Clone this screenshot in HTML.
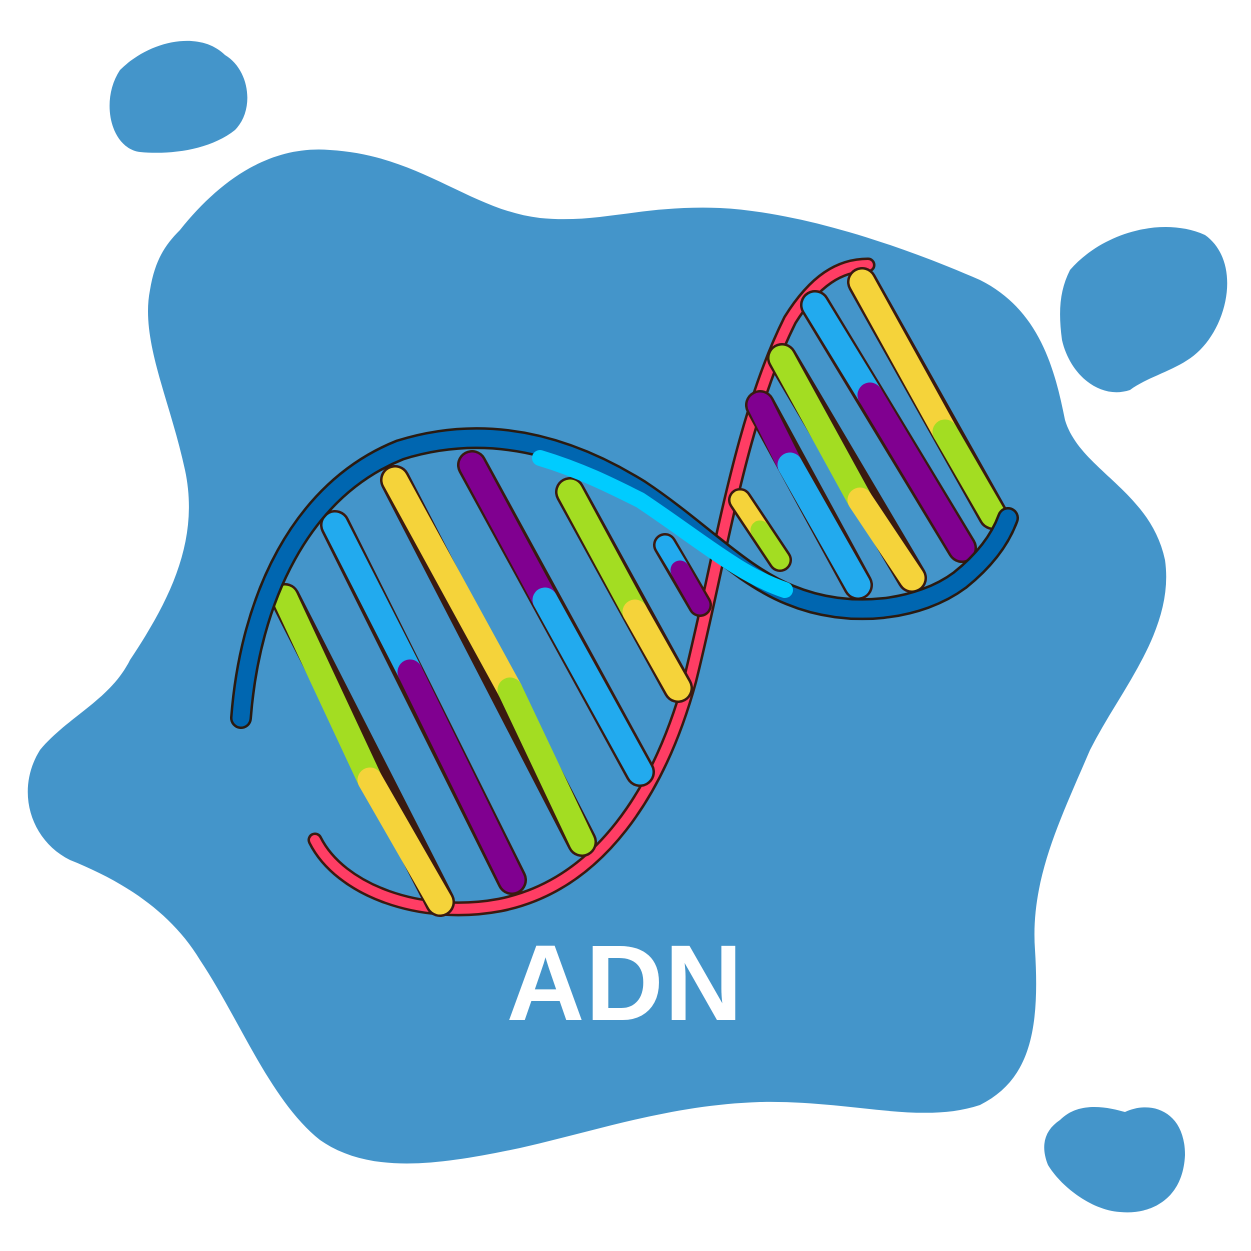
<!DOCTYPE html>
<html><head><meta charset="utf-8"><style>html,body{margin:0;padding:0;background:#fff}svg{display:block}</style></head>
<body>
<svg width="1251" height="1251" viewBox="0 0 1251 1251">
<g fill="#4495CA">
<path d="M180,230 C220,180 270,145 330,150 C420,155 470,210 540,218 C600,224 640,205 720,208 C800,212 900,245 980,280 C1040,310 1055,370 1065,420 C1080,470 1150,490 1165,560 C1175,630 1120,690 1090,750 C1060,820 1030,880 1035,950 C1040,1030 1030,1080 980,1105 C920,1125 850,1100 760,1102 C670,1105 600,1130 520,1148 C440,1165 370,1175 320,1140 C270,1100 240,1020 200,960 C170,910 120,880 70,860 C30,840 15,790 40,750 C70,715 110,700 130,660 C170,600 200,540 185,470 C170,400 140,340 150,290 C155,260 165,245 180,230 Z"/>
<path d="M120,70 C150,40 200,30 225,55 C250,70 255,110 235,130 C210,150 170,155 140,152 C110,148 100,100 120,70 Z"/>
<path d="M1070,270 C1100,235 1160,215 1205,235 C1240,260 1230,320 1200,350 C1180,370 1150,375 1130,390 C1100,400 1070,375 1062,340 C1058,310 1060,290 1070,270 Z"/>
<path d="M1060,1120 C1080,1100 1110,1108 1125,1112 C1150,1100 1185,1110 1185,1155 C1183,1200 1150,1215 1120,1212 C1090,1210 1060,1185 1048,1165 C1040,1145 1045,1130 1060,1120 Z"/>
</g>
<g fill="none" stroke-linecap="round">
<path d="M315,840 C340,890 420,920 500,905 C600,885 660,790 690,680 C720,560 740,420 790,320 C815,280 840,265 868,265" stroke="#3a1a10" stroke-width="15"/>
<path d="M315,840 C340,890 420,920 500,905 C600,885 660,790 690,680 C720,560 740,420 790,320 C815,280 840,265 868,265" stroke="#FF3D64" stroke-width="10"/>
</g>
<g id="bars"></g>
<g fill="none" stroke-linecap="round">
<path d="M241,718 C250,600 300,490 400,450 C480,425 560,440 640,490 C700,530 740,575 790,595 C850,620 920,610 960,580 C985,560 1000,540 1008,518" stroke="#2a1a10" stroke-width="22"/>
<path d="M241,718 C250,600 300,490 400,450 C480,425 560,440 640,490 C700,530 740,575 790,595 C850,620 920,610 960,580 C985,560 1000,540 1008,518" stroke="#0066B0" stroke-width="17"/>
<path d="M540,458 C580,470 610,485 640,500 C700,540 740,575 785,590" stroke="#00CCFF" stroke-width="16"/>
</g>
<text x="625" y="1020" text-anchor="middle" font-family="Liberation Sans, sans-serif" font-weight="bold" font-size="108" letter-spacing="1" fill="#fff">ADN</text>
</svg>
<script>
const topColors=["#A3DD22","#22AAEE","#F5D33A","#800090","#A3DD22","#22AAEE","#F5D33A","#800090","#A3DD22","#22AAEE","#F5D33A"];
const botColors=["#F5D33A","#800090","#A3DD22","#22AAEE","#F5D33A","#800090","#A3DD22","#22AAEE","#F5D33A","#800090","#A3DD22"];
const starts=[[285,598],[335,525],[395,480],[472,465],[570,492],[665,545],[740,500],[760,405],[782,358],[815,305],[862,282]];
const splits=[[370,780],[410,672],[510,690],[545,600],[635,612],[680,570],[760,530],[790,465],[860,500],[870,395],[945,432]];
const ends=[[440,902],[512,880],[582,842],[640,772],[678,688],[700,605],[780,560],[858,585],[912,578],[962,548],[993,515]];
const g=document.getElementById('bars');
const NS="http://www.w3.org/2000/svg";
function ln(a,b,c,w){const l=document.createElementNS(NS,'line');l.setAttribute('x1',a[0]);l.setAttribute('y1',a[1]);l.setAttribute('x2',b[0]);l.setAttribute('y2',b[1]);l.setAttribute('stroke',c);l.setAttribute('stroke-width',w);l.setAttribute('stroke-linecap','round');


g.appendChild(l);}
for(let i=0;i<starts.length;i++){const w=i==5||i==6?19:25;
ln(starts[i],ends[i],"#3a1a10",w+5);
ln(starts[i],splits[i],topColors[i],w);
ln(splits[i],ends[i],botColors[i],w);}
</script>
</body></html>
